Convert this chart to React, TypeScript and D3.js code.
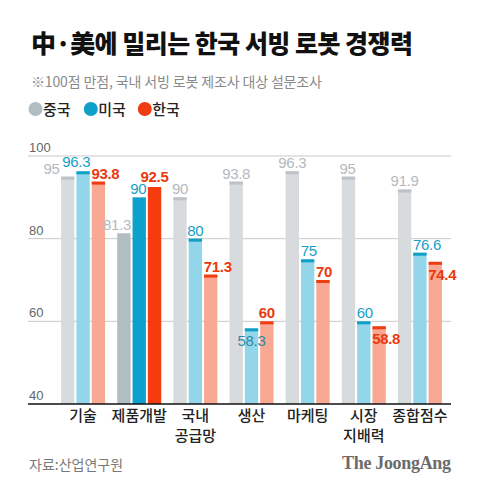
import React, { useRef, useEffect } from "react";
import * as d3 from "d3";

// Data
const categories = ["기술", "제품개발", "국내\n공급망", "생산", "마케팅", "시장\n지배력", "종합점수"];
const seriesNames = ["중국", "미국", "한국"];
const chinaValues = [95, 81.3, 90, 93.8, 96.3, 95, 91.9];
const usaValues = [96.3, 90, 80, 58.3, 75, 60, 76.6];
const koreaValues = [93.8, 92.5, 71.3, 60, 70, 58.8, 74.4];
const yTicks = [40, 60, 80, 100];
const highlightCategory = "제품개발";

// Label layout (anchor relative to bar, and above/below bar top)
const labelAnchor = [
  ["endL", "end", "mid", "mid", "mid", "end", "mid"],
  ["end", "end", "mid", "mid", "start", "start", "start"],
  ["start", "mid", "start", "mid", "start", "start", "start"],
];
const labelBelow = [
  [false, false, false, false, false, false, false],
  [false, false, false, true, false, false, false],
  [false, false, false, false, false, true, true],
];
const labelLift = [
  [0, 0, 0, 0, 0, 0, 0],
  [1, 0, 0, 0, 0, 0, 0],
  [0, 2.5, 0, 0, 0, 0, 0],
];

const palette = [
  { pale: "#d7dbde", cap: "#bcc2c7", full: "#b2bcc3", text: "#b4b9bd", belowText: "#9aa0a5" },
  { pale: "#94d6e9", cap: "#0fa0c7", full: "#0ba1ca", text: "#17a0c6", belowText: "#2b8ba4" },
  { pale: "#f9a893", cap: "#ef3c10", full: "#f63b0e", text: "#e83a0e", belowText: "#e83a0e" },
];

const App: React.FC = () => {
  const svgRef = useRef<SVGSVGElement>(null);

  useEffect(() => {
    if (!svgRef.current) return;
    const svg = d3.select(svgRef.current);
    svg.selectAll("*").remove();

    const width = 480;
    const height = 492;
    const font = "'Noto Sans CJK KR', 'Liberation Sans', sans-serif";
    const numFont = "'Liberation Sans', Arial, sans-serif";

    svg.attr("width", width).attr("height", height).style("background", "#fff");

    // Title block
    svg.append("text")
      .attr("x", 31).attr("y", 53)
      .attr("font-family", font).attr("font-weight", 900).attr("font-size", 25)
      .attr("textLength", 382)
      .attr("fill", "#111")
      .text("中·美에 밀리는 한국 서빙 로봇 경쟁력");

    svg.append("text")
      .attr("x", 31).attr("y", 87)
      .attr("font-family", font).attr("font-size", 14)
      .attr("textLength", 291)
      .attr("fill", "#8a8a8a")
      .text("※100점 만점, 국내 서빙 로봇 제조사 대상 설문조사");

    // Legend
    const legendX = [35.5, 90.8, 144.8];
    seriesNames.forEach((name, i) => {
      svg.append("circle")
        .attr("cx", legendX[i]).attr("cy", 109).attr("r", 7)
        .attr("fill", i === 0 ? palette[0].full : palette[i].cap);
      svg.append("text")
        .attr("x", legendX[i] + 7.5).attr("y", 114.5)
        .attr("font-family", font).attr("font-weight", 500).attr("font-size", 15)
        .attr("fill", "#222")
        .text(name);
    });

    // Scales
    const yScale = d3.scaleLinear().domain([40, 100]).range([404, 156]);
    const xScale = d3.scaleBand<string>().domain(categories).range([55, 448]);
    const inner = d3.scaleBand<string>().domain(seriesNames).range([-22, 22]).paddingInner(0.13);

    // Grid
    const g = svg.append("g");
    yTicks.forEach((t) => {
      if (t !== 40) {
        g.append("line")
          .attr("x1", 28).attr("x2", 451)
          .attr("y1", yScale(t)).attr("y2", yScale(t))
          .attr("stroke", "#c9c9c9").attr("stroke-width", 1);
      }
      g.append("text")
        .attr("x", 29).attr("y", yScale(t) - 4)
        .attr("font-family", numFont).attr("font-size", 13)
        .attr("fill", "#666")
        .text(t);
    });

    const series = [chinaValues, usaValues, koreaValues];

    // Bars
    series.forEach((values, si) => {
      values.forEach((v, ci) => {
        const cat = categories[ci];
        const x0 = (xScale(cat) || 0) + xScale.bandwidth() / 2 + (inner(seriesNames[si]) || 0);
        const bw = inner.bandwidth();
        const top = yScale(v);
        const hl = cat === highlightCategory;
        g.append("rect")
          .attr("x", x0).attr("y", top)
          .attr("width", bw).attr("height", yScale(40) - top)
          .attr("fill", hl ? palette[si].full : palette[si].pale);
        if (!hl) {
          g.append("rect")
            .attr("x", x0).attr("y", top)
            .attr("width", bw).attr("height", 3)
            .attr("fill", palette[si].cap);
        }
      });
    });

    // Value labels
    series.forEach((values, si) => {
      values.forEach((v, ci) => {
        const cat = categories[ci];
        const x0 = (xScale(cat) || 0) + xScale.bandwidth() / 2 + (inner(seriesNames[si]) || 0);
        const bw = inner.bandwidth();
        const top = yScale(v);
        const a = labelAnchor[si][ci];
        const below = labelBelow[si][ci];
        let x = x0 + bw / 2;
        let anchor = "middle";
        if (a === "start") { x = x0 - 0.3; anchor = "start"; }
        if (a === "end") { x = x0 + bw + 0.5; anchor = "end"; }
        if (a === "endL") { x = x0 - 1.5; anchor = "end"; }
        g.append("text")
          .attr("x", x)
          .attr("y", below ? top + 18 : top - 3 - labelLift[si][ci])
          .attr("text-anchor", anchor)
          .attr("font-family", numFont)
          .attr("font-size", 15)
          .attr("font-weight", si === 2 ? 700 : 400)
          .attr("letter-spacing", -0.3)
          .attr("fill", below ? palette[si].belowText : palette[si].text)
          .text(v);
      });
    });

    // Baseline axis
    g.append("line")
      .attr("x1", 28).attr("x2", 451)
      .attr("y1", 404).attr("y2", 404)
      .attr("stroke", "#111").attr("stroke-width", 1.5);

    // Category labels
    categories.forEach((cat) => {
      const cx = (xScale(cat) || 0) + xScale.bandwidth() / 2;
      cat.split("\n").forEach((line, li) => {
        g.append("text")
          .attr("x", cx).attr("y", 421 + li * 20)
          .attr("text-anchor", "middle")
          .attr("font-family", font).attr("font-weight", 500).attr("font-size", 15)
          .attr("fill", "#222")
          .text(line);
      });
    });

    // Footer
    svg.append("text")
      .attr("x", 29).attr("y", 469.5)
      .attr("font-family", font).attr("font-size", 14)
      .attr("fill", "#7a7a7a")
      .text("자료:산업연구원");

    svg.append("text")
      .attr("x", 451).attr("y", 469)
      .attr("text-anchor", "end")
      .attr("font-family", "'Liberation Serif', 'DejaVu Serif', serif")
      .attr("font-weight", 700).attr("font-size", 18)
      .attr("textLength", 109)
      .attr("fill", "#6b6b6b")
      .text("The JoongAng");
  }, []);

  return (
    <svg ref={svgRef} style={{ position: "absolute", left: 0, top: 0 }} />
  );
};

export default App;
